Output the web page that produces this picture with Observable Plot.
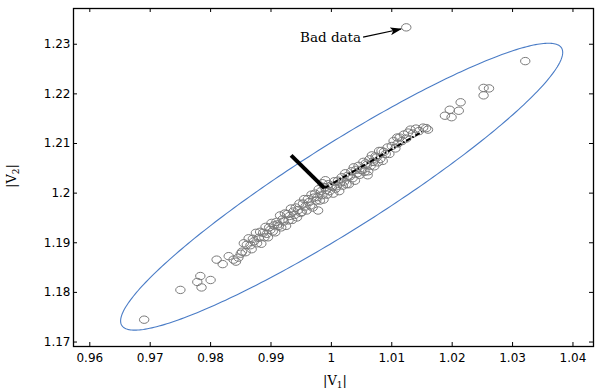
<!DOCTYPE html>
<html><head><meta charset="utf-8">
<script src="https://cdn.jsdelivr.net/npm/d3@7"></script>
<script src="https://cdn.jsdelivr.net/npm/@observablehq/plot@0.6"></script>
<style>body{margin:0;background:#fff}</style>
</head><body><div id="chart"></div>
<script>
// ---- tick labels ----
const xTicks = [0.96, 0.97, 0.98, 0.99, 1, 1.01, 1.02, 1.03, 1.04];
const yTicks = [1.17, 1.18, 1.19, 1.2, 1.21, 1.22, 1.23];

// ---- measurement points |V1|, |V2| ----
const v1 = [
  0.9690, 0.9750, 0.9783, 0.9778, 0.9785, 0.9800, 0.9810, 0.9820, 0.9830, 0.9838, 0.9842, 0.9846, 0.9850,
  0.9852, 0.9855, 0.9858, 0.9860, 0.9863, 0.9866, 0.9868, 0.9870, 0.9872, 0.9875, 0.9877, 0.9880, 0.9882, 0.9884, 0.9887, 0.9889, 0.9891, 0.9893, 0.9895, 0.9897, 0.9899,
  0.9901, 0.9903, 0.9905, 0.9907, 0.9909, 0.9911, 0.9913, 0.9915, 0.9917, 0.9919, 0.9921, 0.9923, 0.9925, 0.9927, 0.9929, 0.9931, 0.9933, 0.9935, 0.9937, 0.9939, 0.9941, 0.9943, 0.9945, 0.9947, 0.9949,
  0.9951, 0.9953, 0.9955, 0.9957, 0.9959, 0.9961, 0.9963, 0.9965, 0.9967, 0.9969, 0.9971, 0.9973, 0.9975, 0.9977, 0.9979, 0.9981, 0.9983, 0.9985, 0.9987, 0.9989, 0.9991, 0.9993, 0.9995, 0.9997, 0.9999, 0.9990, 0.9985, 0.9978,
  1.0001, 1.0003, 1.0005, 1.0007, 1.0009, 1.0011, 1.0013, 1.0015, 1.0017, 1.0019, 1.0021, 1.0023, 1.0025, 1.0027, 1.0029, 1.0031, 1.0033, 1.0035, 1.0037, 1.0039, 1.0041, 1.0043, 1.0045, 1.0047, 1.0049,
  1.0051, 1.0053, 1.0055, 1.0057, 1.0059, 1.0061, 1.0063, 1.0065, 1.0067, 1.0069, 1.0071, 1.0073, 1.0075, 1.0077, 1.0079, 1.0081, 1.0083, 1.0085, 1.0087, 1.0090, 1.0093, 1.0096, 1.0060,
  1.0100, 1.0103, 1.0106, 1.0109, 1.0110, 1.0113, 1.0117, 1.0120, 1.0124, 1.0127, 1.0131, 1.0135, 1.0140, 1.0145, 1.0152, 1.0157, 1.0160,
  1.0188, 1.0199, 1.0196, 1.0211, 1.0214, 1.0252, 1.0252, 1.0261, 1.0321,
  1.0124
];
const v2 = [
  1.1745, 1.1805, 1.1833, 1.1821, 1.1810, 1.1825, 1.1866, 1.1857, 1.1873, 1.1866, 1.1862, 1.1870, 1.1878,
  1.1882, 1.1899, 1.1881, 1.1896, 1.1909, 1.1895, 1.1887, 1.1908, 1.1903, 1.1920, 1.1899, 1.1910, 1.1922, 1.1898, 1.1920, 1.1911, 1.1932, 1.1918, 1.1911, 1.1931, 1.1926,
  1.1940, 1.1923, 1.1935, 1.1921, 1.1942, 1.1937, 1.1934, 1.1955, 1.1931, 1.1947, 1.1943, 1.1959, 1.1934, 1.1958, 1.1945, 1.1954, 1.1969, 1.1946, 1.1963, 1.1956, 1.1971, 1.1951, 1.1966, 1.1979, 1.1960,
  1.1962, 1.1979, 1.1988, 1.1973, 1.1965, 1.1988, 1.1982, 1.1975, 1.1997, 1.1971, 1.1991, 1.1999, 1.1985, 1.1992, 1.2008, 1.1985, 1.2004, 1.1996, 1.1987, 1.2012, 1.2006, 1.1997, 1.2018, 1.2004, 1.2015, 1.2026, 1.2020, 1.1965,
  1.2013, 1.1999, 1.2024, 1.2009, 1.2014, 1.2025, 1.2004, 1.2022, 1.2032, 1.2015, 1.2023, 1.2040, 1.2018, 1.2035, 1.2018, 1.2034, 1.2044, 1.2030, 1.2052, 1.2025, 1.2047, 1.2040, 1.2055, 1.2037, 1.2047,
  1.2046, 1.2063, 1.2043, 1.2060, 1.2057, 1.2044, 1.2068, 1.2055, 1.2076, 1.2063, 1.2054, 1.2074, 1.2072, 1.2062, 1.2085, 1.2069, 1.2085, 1.2065, 1.2083, 1.2079, 1.2092, 1.2079, 1.2036,
  1.2095, 1.2105, 1.2090, 1.2112, 1.2100, 1.2112, 1.2105, 1.2118, 1.2110, 1.2122, 1.2128, 1.2120, 1.2130, 1.2125, 1.2132, 1.2131, 1.2128,
  1.2156, 1.2153, 1.2168, 1.2166, 1.2183, 1.2212, 1.2197, 1.2211, 1.2266,
  1.2334
];

// ---- principal directions (from mean point) ----
const meanPoint = [0.99884, 1.20101];
const minorEnd = [0.99333, 1.20762];
const majorEnd = [1.0150, 1.21236];

// ---- confidence ellipse parameters ----
const ellCenter = [1.0017, 1.2013];
const ellHalfX = 0.0366, ellHalfY = 0.0289, ellPhase = 0.36;

// ---- annotation ----
const badLabel = "Bad data";
const badLabelPos = [1.00492, 1.23141];
const badArrowFrom = [1.00525, 1.23145];
const badArrowTo = [1.01154, 1.23307];

const points = v1.map((x, i) => ({v1: x, v2: v2[i]}));
const ellipse = d3.range(0, 2 * Math.PI + 0.02, 0.02).map(t => ({
  x: ellCenter[0] + ellHalfX * Math.cos(t),
  y: ellCenter[1] + ellHalfY * Math.cos(t - ellPhase)
}));

const W = 595, H = 389, mL = 73, mR = 2, mT = 8, mB = 43, tick = 4;
const plotW = W - mL - mR, plotH = H - mT - mB;

const fmt = d => String(d);
const oval = {draw(ctx) {
  const rx = 4.7, ry = 3.7, k = 0.5523;
  ctx.moveTo(rx, 0);
  ctx.bezierCurveTo(rx, k * ry, k * rx, ry, 0, ry);
  ctx.bezierCurveTo(-k * rx, ry, -rx, k * ry, -rx, 0);
  ctx.bezierCurveTo(-rx, -k * ry, -k * rx, -ry, 0, -ry);
  ctx.bezierCurveTo(k * rx, -ry, rx, -k * ry, rx, 0);
  ctx.closePath();
}};

const chart = Plot.plot({
  width: W, height: H,
  marginLeft: mL, marginRight: mR, marginTop: mT, marginBottom: mB,
  x: {domain: [0.9573, 1.0434]},
  y: {domain: [1.1691, 1.2372]},
  style: {fontFamily: "DejaVu Sans", fontSize: "12px", background: "white", color: "black"},
  marks: [
    Plot.line(ellipse, {x: "x", y: "y", stroke: "#4a7cc6", strokeWidth: 1.1}),
    Plot.dot(points, {x: "v1", y: "v2", symbol: oval, r: 4, stroke: "#7a7a7a", strokeWidth: 1, fill: "none"}),
    Plot.link([{a: meanPoint, b: minorEnd}], {x1: d => d.a[0], y1: d => d.a[1], x2: d => d.b[0], y2: d => d.b[1], stroke: "black", strokeWidth: 4}),
    Plot.link([{a: meanPoint, b: majorEnd}], {x1: d => d.a[0], y1: d => d.a[1], x2: d => d.b[0], y2: d => d.b[1], stroke: "black", strokeWidth: 2.2, strokeDasharray: "5,2,1.5,2"}),
    Plot.link([{a: badArrowFrom, b: badArrowTo}], {x1: d => d.a[0], y1: d => d.a[1], x2: d => d.b[0], y2: d => d.b[1], stroke: "black", strokeWidth: 1.2}),
    Plot.text([badLabel], {x: () => badLabelPos[0], y: () => badLabelPos[1], text: d => d, textAnchor: "end", fontFamily: "DejaVu Serif", fontSize: 13.5, fill: "black"}),
    Plot.frame({stroke: "black", strokeWidth: 1.3}),
    // inward tick marks on all four sides
    Plot.ruleX(xTicks, {x: d => d, insetTop: plotH - tick, stroke: "black", strokeWidth: 1}),
    Plot.ruleX(xTicks, {x: d => d, insetBottom: plotH - tick, stroke: "black", strokeWidth: 1}),
    Plot.ruleY(yTicks, {y: d => d, insetRight: plotW - tick, stroke: "black", strokeWidth: 1}),
    Plot.ruleY(yTicks, {y: d => d, insetLeft: plotW - tick, stroke: "black", strokeWidth: 1}),
    Plot.axisX({ticks: xTicks, tickSize: 0, tickPadding: 7, tickFormat: fmt, label: null}),
    Plot.axisY({ticks: yTicks, tickSize: 0, tickPadding: 3, tickFormat: fmt, label: null})
  ]
});
document.getElementById("chart").appendChild(chart);

// arrowhead and axis titles with subscripts
const svg = d3.select(chart);
const defs = svg.append("defs");
defs.append("marker").attr("id", "badHead").attr("markerUnits", "userSpaceOnUse")
  .attr("viewBox", "0 0 12 8").attr("markerWidth", 12).attr("markerHeight", 8)
  .attr("refX", 11).attr("refY", 4).attr("orient", "auto")
  .append("path").attr("d", "M0,0L12,4L0,8L3,4Z").attr("fill", "black");
const links = svg.selectAll('g[aria-label="link"]').nodes();
d3.select(links[links.length - 1]).selectAll("path,line").attr("marker-end", "url(#badHead)");

const xl = svg.append("text").attr("x", 335).attr("y", 385).attr("text-anchor", "middle")
  .attr("font-family", "DejaVu Serif").attr("font-size", 13).attr("fill", "black");
xl.append("tspan").text("|V");
xl.append("tspan").attr("font-size", 9).attr("dy", 3).text("1");
xl.append("tspan").attr("dy", -3).text("|");

const yl = svg.append("text").attr("transform", "translate(16,176) rotate(-90)").attr("text-anchor", "middle")
  .attr("font-family", "DejaVu Serif").attr("font-size", 13).attr("fill", "black");
yl.append("tspan").text("|V");
yl.append("tspan").attr("font-size", 9).attr("dy", 3).text("2");
yl.append("tspan").attr("dy", -3).text("|");
</script>
</body></html>
